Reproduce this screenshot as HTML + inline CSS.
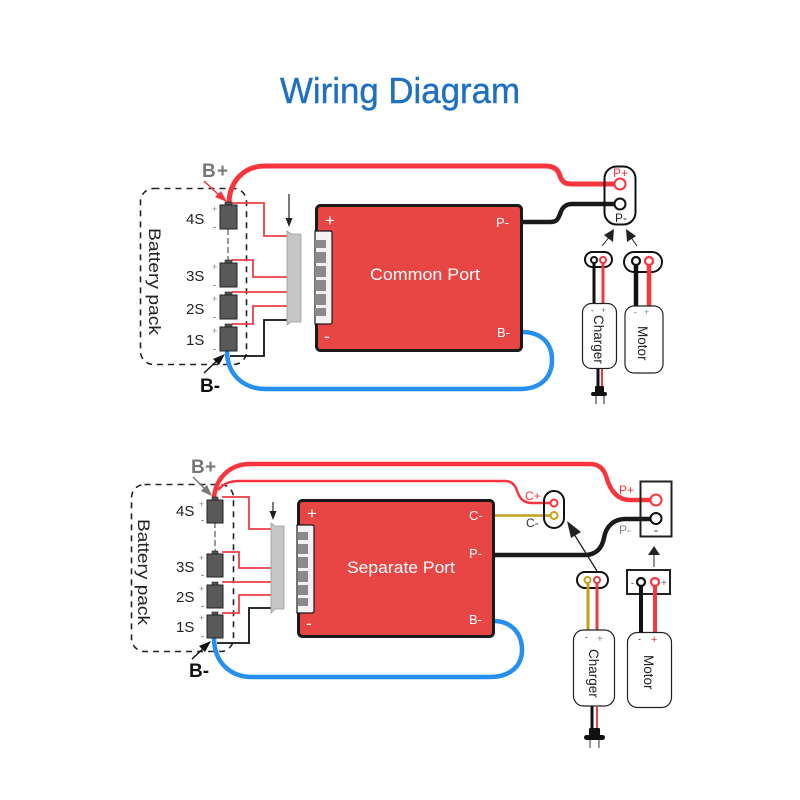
<!DOCTYPE html>
<html><head><meta charset="utf-8"><style>
html,body{margin:0;padding:0;background:#fff}
svg{display:block}
text{font-family:"Liberation Sans",sans-serif}
</style></head><body>
<svg width="800" height="800" viewBox="0 0 800 800" xmlns="http://www.w3.org/2000/svg" fill="none">
<defs>
<g id="cell"><rect x="5" y="-3" width="7" height="4" fill="#555" stroke="#222" stroke-width=".6"/><rect x="0" y="0" width="17" height="24" fill="#595959" stroke="#222" stroke-width="1"/></g>
<g id="cellb"><rect x="5" y="-3" width="6" height="4" fill="#555" stroke="#222" stroke-width=".6"/><rect x="0" y="0" width="16" height="23" fill="#595959" stroke="#222" stroke-width="1"/></g>
</defs>
<rect width="800" height="800" fill="#fff"/>
<text x="400" y="103" text-anchor="middle" font-size="36" fill="#1f70c1" stroke="#1f70c1" stroke-width=".4" textLength="240" lengthAdjust="spacingAndGlyphs">Wiring Diagram</text>

<!-- TOP DIAGRAM -->
<rect x="140.500" y="188.500" width="106" height="176" rx="13" stroke="#222" stroke-width="1.600" stroke-dasharray="6 5"/>
<text transform="translate(149,228) rotate(90)" font-size="17" fill="#222" textLength="107" lengthAdjust="spacingAndGlyphs">Battery pack</text>
<path d="M229 202C230 180 245 166 265 166H545C556 166 559 172 560 176C562 182 565 184 572 184H620" stroke="#f8343c" stroke-width="5"/>
<path d="M227 351C227 375 244 389 266 389H520C540 389 552 378 552 360C552 342 540 332 522 332" stroke="#2590ee" stroke-width="4.500"/>
<path d="M522 222H550C557 222 558 219 560 214C562 208 565 204 572 204H620" stroke="#1a1a1a" stroke-width="4.500"/>
<path d="M228 229V263" stroke="#999" stroke-width="2" stroke-dasharray="6 3"/>
<path d="M232 203H264V236H288M232 260H253V277H288M232 292H288M232 324H253V306H288" stroke="#ea3f45" stroke-width="1.800"/>
<path d="M230 356H264V320H288" stroke="#111" stroke-width="1.800"/>
<use href="#cell" x="220" y="205"/><use href="#cell" x="220" y="263"/><use href="#cell" x="220" y="295"/><use href="#cell" x="220" y="327"/>
<text x="186" y="224" font-size="15" fill="#222">4S</text><text x="186" y="281" font-size="15" fill="#222">3S</text><text x="186" y="314" font-size="15" fill="#222">2S</text><text x="186" y="345" font-size="15" fill="#222">1S</text>
<g fill="#888" font-size="9"><text x="212" y="212">+</text><text x="212" y="270">+</text><text x="212" y="302">+</text><text x="212" y="334">+</text></g>
<g fill="#333" font-size="9"><text x="213" y="230">-</text><text x="213" y="288">-</text><text x="213" y="320">-</text><text x="213" y="352">-</text></g>
<text x="202" y="177" font-size="19" font-weight="bold" fill="#777">B</text><text x="217" y="177" font-size="19" font-weight="bold" fill="#777">+</text>
<path d="M204 181L222 198" stroke="#f8343c" stroke-width="1.500"/><path d="M227 202L215 197L221 191Z" fill="#f8343c"/>
<text x="200" y="392" font-size="19" font-weight="bold" fill="#111">B-</text>
<path d="M204 373L220 358" stroke="#111" stroke-width="1.500"/><path d="M225 354L219 365L213 359Z" fill="#111"/>
<path d="M289 194V221" stroke="#222" stroke-width="1.200"/><path d="M289 227L285.500 218H292.500Z" fill="#222"/>
<path d="M287 231L291 234H301V322H291L287 325Z" fill="#c6c6c6" stroke="#999" stroke-width=".8"/>
<rect x="316.500" y="205.500" width="205" height="145" rx="4" fill="#e84545" stroke="#1a1a1a" stroke-width="3"/>
<path d="M315 231H330Q332 231 332 233V322Q332 324 330 324H315Z" fill="#f2f2f2" stroke="#1a1a1a" stroke-width="1.200"/>
<g fill="#8a8a8a"><rect x="315" y="240" width="11" height="8"/><rect x="315" y="252" width="11" height="11"/><rect x="315" y="266" width="11" height="11"/><rect x="315" y="280" width="11" height="11"/><rect x="315" y="294" width="11" height="11"/><rect x="315" y="308" width="11" height="8"/></g>
<text x="325" y="226" font-size="17" fill="#fff">+</text><text x="324" y="342" font-size="17" fill="#fff">-</text>
<text x="425" y="280" text-anchor="middle" font-size="16.500" fill="#fff" textLength="110" lengthAdjust="spacingAndGlyphs">Common Port</text>
<text x="496" y="227" font-size="13" fill="#fff">P-</text><text x="497" y="337" font-size="13" fill="#fff">B-</text>
<rect x="604.500" y="166.500" width="31" height="58" rx="12" stroke="#111" stroke-width="2"/>
<circle cx="620" cy="184" r="5.500" fill="#fff" stroke="#f8343c" stroke-width="2"/><circle cx="620" cy="204" r="5.500" fill="#fff" stroke="#111" stroke-width="2"/>
<text x="613" y="177" font-size="12" fill="#f8343c">P+</text><text x="615" y="222" font-size="12" fill="#222">P-</text>
<path d="M602 246L610 236" stroke="#222" stroke-width="1"/><path d="M614 229L613 242L604 235Z" fill="#222"/>
<path d="M637 246L630 236" stroke="#222" stroke-width="1"/><path d="M626 229L636 236L627 242Z" fill="#222"/>
<rect x="585" y="252" width="27" height="15" rx="7.500" stroke="#111" stroke-width="2"/>
<rect x="624" y="252" width="38" height="20" rx="10" stroke="#111" stroke-width="2"/>
<path d="M594 262V304" stroke="#111" stroke-width="3"/><path d="M603 262V304" stroke="#f8343c" stroke-width="3"/>
<path d="M636 262V306" stroke="#111" stroke-width="4.500"/><path d="M649 262V306" stroke="#f8343c" stroke-width="4.500"/>
<circle cx="594" cy="260" r="3" fill="#fff" stroke="#111" stroke-width="2"/><circle cx="603" cy="260" r="3" fill="#fff" stroke="#f8343c" stroke-width="2"/>
<circle cx="636" cy="261" r="4" fill="#fff" stroke="#111" stroke-width="2.200"/><circle cx="649" cy="261" r="4" fill="#fff" stroke="#f8343c" stroke-width="2.200"/>
<rect x="582.500" y="303.500" width="34" height="65" rx="9" fill="#fff" stroke="#222" stroke-width="1.200"/>
<rect x="625" y="306" width="38" height="67" rx="9" fill="#fff" stroke="#222" stroke-width="1.200"/>
<text transform="translate(594,315) rotate(90)" font-size="13.500" fill="#222">Charger</text>
<text transform="translate(638,326) rotate(90)" font-size="13.500" fill="#222">Motor</text>
<text x="591" y="313" font-size="8" fill="#333">-</text><text x="601" y="313" font-size="9" fill="#888">+</text><text x="634" y="315" font-size="8" fill="#555">-</text><text x="644" y="315" font-size="9" fill="#888">+</text>
<path d="M598 369V388" stroke="#111" stroke-width="3"/><path d="M602 369V388" stroke="#f8343c" stroke-width="2"/>
<rect x="595" y="386" width="9" height="8" rx="1" fill="#111"/><rect x="591" y="392" width="16" height="4" rx="2" fill="#111"/>
<path d="M596 396V404M604 396V404" stroke="#444" stroke-width="1.200"/>

<!-- BOTTOM DIAGRAM -->
<rect x="131.500" y="484.500" width="102" height="167" rx="13" stroke="#222" stroke-width="1.600" stroke-dasharray="6 5"/>
<text transform="translate(138,519) rotate(90)" font-size="17" fill="#222" textLength="106" lengthAdjust="spacingAndGlyphs">Battery pack</text>
<path d="M214 497C216 478 230 464 250 464H590C600 464 604 470 606 476C609 487 615 500 630 500H656" stroke="#f8343c" stroke-width="4.500"/>
<path d="M218 490C224 483 230 481 240 481H505C511 481 514 484 516 488C519 497 522 503 532 503H554" stroke="#f8343c" stroke-width="2.500"/>
<path d="M214 638C214 662 230 677 252 677H490C510 677 522 666 522 650C522 632 510 621 494 621" stroke="#2590ee" stroke-width="4.500"/>
<path d="M494 555H585C596 555 602 548 604 538C606 526 614 519 625 519H656" stroke="#1a1a1a" stroke-width="4.500"/>
<path d="M494 515.500H554" stroke="#c8a018" stroke-width="2.500"/>
<path d="M215 522V554" stroke="#999" stroke-width="2" stroke-dasharray="6 3"/>
<path d="M222 497H249V529H272M222 552H239V568H272M222 582H272M222 613H239V595H272" stroke="#ea3f45" stroke-width="1.800"/>
<path d="M217 643H249V608H272" stroke="#111" stroke-width="1.800"/>
<use href="#cellb" x="207" y="500"/><use href="#cellb" x="207" y="554"/><use href="#cellb" x="207" y="585"/><use href="#cellb" x="207" y="615"/>
<text x="176" y="516" font-size="15" fill="#222">4S</text><text x="176" y="572" font-size="15" fill="#222">3S</text><text x="176" y="602" font-size="15" fill="#222">2S</text><text x="176" y="632" font-size="15" fill="#222">1S</text>
<g fill="#888" font-size="9"><text x="199" y="507">+</text><text x="199" y="561">+</text><text x="199" y="592">+</text><text x="199" y="621">+</text></g>
<g fill="#333" font-size="9"><text x="201" y="523">-</text><text x="201" y="578">-</text><text x="201" y="609">-</text><text x="201" y="639">-</text></g>
<text x="191" y="473" font-size="19" font-weight="bold" fill="#777">B</text><text x="205" y="473" font-size="19" font-weight="bold" fill="#777">+</text>
<path d="M193 477L208 492" stroke="#777" stroke-width="1.500"/><path d="M212 496L201 491L207 485Z" fill="#777"/>
<text x="189" y="677" font-size="19" font-weight="bold" fill="#111">B-</text>
<path d="M192 659L207 645" stroke="#111" stroke-width="1.500"/><path d="M211 641L205 652L199 646Z" fill="#111"/>
<path d="M273 502V514" stroke="#222" stroke-width="1.200"/><path d="M273 520L269.500 511H276.500Z" fill="#222"/>
<path d="M271 523L275 526H284V609H275L271 613Z" fill="#c6c6c6" stroke="#999" stroke-width=".8"/>
<rect x="298.500" y="500.500" width="195" height="136" rx="4" fill="#e84545" stroke="#1a1a1a" stroke-width="3"/>
<path d="M297 525H312Q314 525 314 527V611Q314 613 312 613H297Z" fill="#f2f2f2" stroke="#1a1a1a" stroke-width="1.200"/>
<g fill="#8a8a8a"><rect x="298" y="532" width="10" height="8"/><rect x="298" y="544" width="10" height="10"/><rect x="298" y="557" width="10" height="11"/><rect x="298" y="571" width="10" height="11"/><rect x="298" y="585" width="10" height="10"/><rect x="298" y="598" width="10" height="8"/></g>
<text x="307" y="519" font-size="17" fill="#fff">+</text><text x="306" y="629" font-size="17" fill="#fff">-</text>
<text x="401" y="573" text-anchor="middle" font-size="16.500" fill="#fff" textLength="108" lengthAdjust="spacingAndGlyphs">Separate Port</text>
<text x="469" y="520" font-size="13" fill="#fff">C-</text><text x="469" y="558" font-size="13" fill="#fff">P-</text><text x="469" y="624" font-size="13" fill="#fff">B-</text>
<rect x="544" y="491" width="20" height="37" rx="10" stroke="#111" stroke-width="2"/>
<circle cx="554" cy="503" r="3.500" fill="#fff" stroke="#f8343c" stroke-width="2"/><circle cx="554" cy="515.500" r="3.500" fill="#fff" stroke="#c8a018" stroke-width="2"/>
<text x="525" y="500" font-size="12" fill="#f8343c">C+</text><text x="526" y="527" font-size="12" fill="#333">C-</text>
<rect x="640.500" y="481.500" width="31" height="55" stroke="#222" stroke-width="2"/>
<circle cx="656" cy="500" r="5.500" fill="#fff" stroke="#f8343c" stroke-width="2"/><circle cx="656" cy="518.500" r="5.500" fill="#fff" stroke="#111" stroke-width="2"/>
<text x="619" y="494" font-size="12" fill="#f8343c">P+</text><text x="619" y="534" font-size="12" fill="#888">P-</text><text x="654" y="534" font-size="12" fill="#222">-</text>
<path d="M597 571L574 534" stroke="#222" stroke-width="1.300"/><path d="M567 521L581 532L571 538Z" fill="#222"/>
<path d="M654 567V550" stroke="#555" stroke-width="1.300"/><path d="M654 546L660 555H648Z" fill="#222"/>
<rect x="577" y="572" width="31" height="16" rx="8" stroke="#111" stroke-width="2"/>
<rect x="627" y="570" width="43" height="24" stroke="#222" stroke-width="2"/>
<path d="M588 582V630" stroke="#c8a018" stroke-width="3"/><path d="M597 582V630" stroke="#ea3f45" stroke-width="3"/>
<path d="M641 586V632" stroke="#111" stroke-width="4"/><path d="M655 586V632" stroke="#f8343c" stroke-width="4"/>
<circle cx="587.500" cy="580" r="3" fill="#fff" stroke="#c8a018" stroke-width="2"/><circle cx="597" cy="580" r="3" fill="#fff" stroke="#ea3f45" stroke-width="2"/>
<circle cx="641" cy="582" r="4" fill="#fff" stroke="#111" stroke-width="2.200"/><circle cx="655" cy="582" r="4" fill="#fff" stroke="#f8343c" stroke-width="2.200"/>
<text x="661" y="586" font-size="10" fill="#666">+</text><text x="631" y="586" font-size="9" fill="#333">-</text>
<rect x="573.500" y="630" width="41" height="76" rx="10" fill="#fff" stroke="#222" stroke-width="1.200"/>
<rect x="627.500" y="632.500" width="44" height="75" rx="10" fill="#fff" stroke="#222" stroke-width="1.200"/>
<text transform="translate(589,649) rotate(90)" font-size="13.500" fill="#222">Charger</text>
<text transform="translate(644,655) rotate(90)" font-size="13.500" fill="#222">Motor</text>
<text x="585" y="640" font-size="9" fill="#333">-</text><text x="597" y="642" font-size="10" fill="#888">+</text><text x="638" y="642" font-size="9" fill="#333">-</text><text x="651" y="643" font-size="11" fill="#f8343c">+</text>
<path d="M592 706V729" stroke="#111" stroke-width="3"/><path d="M597 706V729" stroke="#ea3f45" stroke-width="2"/>
<rect x="589" y="728" width="11" height="9" rx="1" fill="#111"/><rect x="584" y="735" width="21" height="5" rx="2.500" fill="#111"/>
<path d="M590 740V748M599 740V748" stroke="#666" stroke-width="1.300"/>
</svg>
</body></html>
